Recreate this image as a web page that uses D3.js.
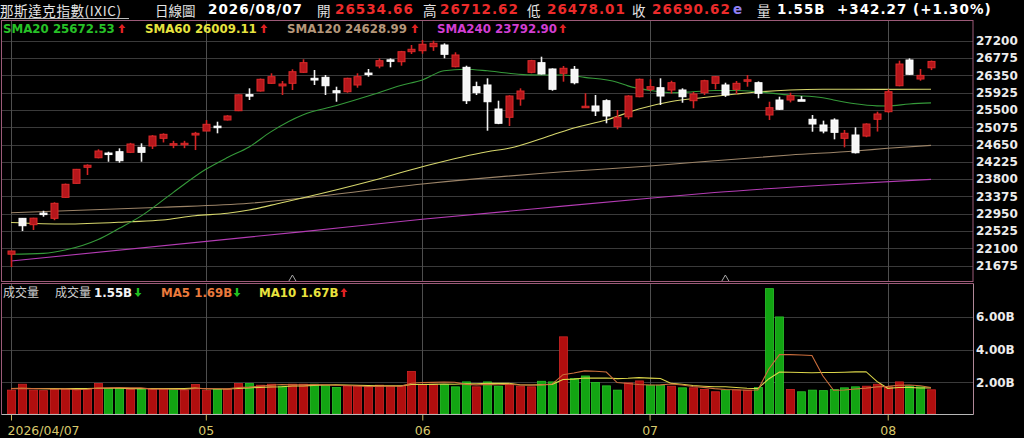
<!DOCTYPE html>
<html>
<head>
<meta charset="utf-8">
<script src="https://cdn.jsdelivr.net/npm/d3@7"></script>
<style>
html, body { margin: 0; padding: 0; background: #000; }
svg { display: block; }
</style>
</head>
<body>
<script>
// daily candles 2026/04/07 .. 2026/08/07, 86 sessions
var opens = [21955,22836,22680,22965,22836,23352,23696,24090,24325,24440,
	24473,24458,24581,24613,24802,24650,24660,24883,24981,25100,
	25252,25480,25875,25964,26153,26090,26153,26424,26276,26300,
	25971,25947,26112,26405,26578,26730,26684,26930,26954,27053,
	27094,26561,26546,26070,26112,25522,25318,25768,26424,26660,
	26505,26399,26497,25560,25596,25726,25087,25330,25824,26006,
	26045,25989,25989,25726,25922,26153,26112,26006,26220,26168,
	25375,25743,25743,25750,25269,25129,25252,24802,24883,24858,
	25269,25456,26094,26726,26259,26534.66];
var highs = [22040,22845,22850,23023,23230,23690,24050,24163,24532,24473,
	24556,24690,24679,24880,24925,24740,24740,24960,25250,25210,
	25370,25880,26030,26270,26399,26210,26497,26743,26480,26357,
	26070,26290,26399,26505,26766,26766,26950,27094,27217,27200,
	27135,26915,26586,26193,26276,25726,25860,26030,26730,26807,
	26520,26579,26579,25908,25866,25760,25497,25860,26270,26252,
	26276,26217,26030,25940,26240,26330,26168,26210,26357,26200,
	25701,25824,25922,25840,25375,25236,25293,25006,25072,25170,
	25456,26006,26709,26766,26505,26712.62];
var lows = [21640,22524,22549,22876,22790,23340,23690,23900,24310,24227,
	24203,24440,24227,24540,24700,24560,24560,24514,24981,24925,
	25240,25470,25743,25950,26140,25866,25989,26410,26112,25866,
	25701,25922,26045,26316,26522,26546,26586,26873,26880,26950,
	26768,26545,25645,25866,24989,25150,25104,25603,26400,26370,
	25971,26193,26128,25550,25350,25171,25023,25269,25810,25960,
	25620,25900,25676,25539,25866,26006,25820,25890,26070,25785,
	25252,25500,25685,25725,24964,24925,24777,24581,24430,24830,
	24968,25430,26080,26360,26217,26478.01];
var closes = [22033,22655,22840,22955,23205,23672,24040,24140,24490,24425,
	24252,24662,24458,24858,24900,24670,24680,24925,25146,25085,
	25350,25870,25860,26252,26316,26136,26438,26660,26234,26094,
	25922,26276,26316,26395,26709,26720,26930,26989,27112,27136,
	26866,26849,25726,25922,25701,25171,25841,25964,26709,26382,
	26006,26522,26168,25590,25473,25350,25318,25841,26252,26070,
	25841,26168,25824,25890,26217,26316,25866,26153,26240,25908,
	25554,25515,25849,25735,25153,24981,24949,24925,24448,25153,
	25399,25947,26627,26375,26348.35,26690.62];

// volume in billions
var volumes = [1.53,1.89,1.53,1.50,1.57,1.57,1.63,1.61,1.93,1.63,
	1.63,1.57,1.57,1.57,1.63,1.57,1.53,1.87,1.53,1.57,
	1.57,1.93,1.93,1.83,1.89,1.77,1.89,1.89,1.89,1.81,
	1.69,1.77,1.77,1.73,1.83,1.77,1.77,2.67,1.89,1.89,
	1.87,1.73,2.03,1.73,2.03,1.77,1.89,1.77,1.73,2.07,
	2.03,4.77,2.23,2.39,1.99,1.79,1.53,1.97,2.09,1.83,
	1.83,1.77,1.67,1.67,1.57,1.43,1.53,1.53,1.53,1.69,
	7.70,5.98,1.57,1.43,1.53,1.50,1.57,1.67,1.73,1.77,
	1.89,1.73,2.03,1.77,1.73,1.55];
var volMa5 = [1.62,1.63,1.62,1.61,1.60,1.61,1.56,1.58,1.66,1.67,
	1.69,1.67,1.67,1.59,1.59,1.58,1.57,1.63,1.63,1.61,
	1.61,1.69,1.71,1.77,1.83,1.87,1.86,1.85,1.87,1.85,
	1.83,1.81,1.79,1.75,1.76,1.77,1.77,1.95,1.99,2.00,
	2.02,2.01,1.88,1.85,1.88,1.86,1.89,1.84,1.84,1.85,
	1.90,2.47,2.57,2.70,2.68,2.63,1.99,1.93,1.87,1.84,
	1.85,1.90,1.84,1.75,1.70,1.62,1.57,1.55,1.52,1.54,
	2.80,3.69,3.69,3.67,3.64,2.40,1.52,1.54,1.60,1.65,
	1.73,1.76,1.83,1.84,1.80,1.69];
var volMa10 = [1.63,1.64,1.63,1.62,1.62,1.62,1.62,1.62,1.64,1.64,
	1.65,1.62,1.62,1.63,1.63,1.63,1.62,1.65,1.61,1.60,
	1.60,1.63,1.67,1.70,1.72,1.74,1.78,1.78,1.82,1.84,
	1.85,1.84,1.82,1.81,1.80,1.80,1.79,1.87,1.87,1.88,
	1.90,1.89,1.92,1.92,1.94,1.94,1.95,1.86,1.84,1.86,
	1.88,2.18,2.20,2.27,2.26,2.27,2.23,2.25,2.29,2.26,
	2.24,1.94,1.89,1.81,1.77,1.74,1.74,1.69,1.64,1.62,
	2.21,2.63,2.62,2.60,2.59,2.60,2.60,2.62,2.64,2.65,
	2.06,1.64,1.69,1.70,1.66,1.67];

// price averages, [session index, value] read at points along each line
var sma20 = [[0,21952],[3,21975],[5,22057],[8,22310],[10,22590],[12,22890],[15,23475],
	[18,24040],[20,24330],[22,24590],[24,24960],[27,25380],[30,25600],[33,25840],
	[36,26100],[38,26234],[40,26462],[42,26500],[44,26460],[46,26400],[48,26360],
	[51,26357],[53,26300],[56,26180],[57,26090],[59,25980],[61,25922],[63,25945],
	[65,25975],[67,25975],[69,25945],[72,25860],[75,25800],[76,25745],[78,25650],
	[80,25600],[81,25596],[83,25645],[85,25672.53]];
var sma60 = [[0,22733],[5,22696],[11,22753],[14,22795],[17,22900],[20,22960],[22,23040],
	[25,23220],[27,23342],[33,23736],[38,24104],[44,24473],[46,24556],[50,24883],
	[52,25055],[55,25252],[58,25522],[61,25706],[64,25804],[67,25890],[69,25940],
	[72,25989],[75,26006],[80,26005],[85,26009.11]];
var sma120 = [[0,22974],[14,23107],[22,23205],[27,23335],[38,23679],[51,23980],[59,24121],
	[65,24252],[72,24392],[78,24490],[81,24556],[85,24628.99]];
var sma240 = [[0,21787],[27,22510],[38,22812],[51,23135],[59,23328],[65,23470],[75,23650],
	[85,23792.90]];

var priceTicks = [27200,26775,26350,25925,25500,25075,24650,24225,23800,23375,22950,22525,22100,21675];
var volTicks = [2, 4, 6];
var dateTickIdx = [0, 18, 38, 59, 81];
var dateTickLabels = ["2026/04/07", "05", "06", "07", "08"];
var markIdx = [26, 66];

var W = 1024, H = 438;
var left = 2, right = 973;
var priceTop = 20.5, priceBottom = 281.5;
var volTop = 283.5, volBottom = 414.5;

var numFont = "DejaVu Sans, Verdana, sans-serif";
var cjkFont = "Noto Sans CJK TC, Noto Sans CJK SC, sans-serif";

var svg = d3.select("body").append("svg")
	.attr("width", W)
	.attr("height", H)
	.style("background", "#000");

var x = d3.scaleLinear().domain([0, 85]).range([11, 931]);
var y = d3.scaleLinear().domain([21675, 27200]).range([265.6, 40.7]);
var yv = d3.scaleLinear().domain([0, 8]).range([415.3, 283.7]);

drawHeader();
drawPrice();
drawVolume();
drawFrames();


function upArrow(g, ax, ay, up, color) {
	// small block arrow, ay = top of the arrow
	var p = up
		? [[0,0],[3.5,4],[1.2,4],[1.2,9],[-1.2,9],[-1.2,4],[-3.5,4]]
		: [[0,9],[3.5,5],[1.2,5],[1.2,0],[-1.2,0],[-1.2,5],[-3.5,5]];
	g.append("path")
		.attr("d", "M" + p.map(function(q) { return (ax + q[0]) + "," + (ay + q[1]); }).join("L") + "Z")
		.attr("fill", color);
}


function headNum(g, tx, str, color) {
	g.append("text").attr("x", tx).attr("y", 13.5).attr("font-family", numFont)
		.attr("font-size", 13.5).attr("font-weight", "bold").attr("letter-spacing", 1)
		.attr("fill", color).text(str);
}

function headCjk(g, tx, str) {
	g.append("text").attr("x", tx).attr("y", 15.8).attr("font-family", cjkFont)
		.attr("font-size", 13.5).attr("fill", "#e4e4e4").text(str);
}


function drawHeader() {
	var g = svg.append("g");
	var last = closes.length - 1;
	var chg = closes[last] - closes[last - 1];
	var pct = chg / closes[last - 1] * 100;
	var red = "#ec2b2b";

	g.append("text").attr("x", 0).attr("y", 15.8).attr("font-family", cjkFont)
		.attr("font-size", 13.5).attr("letter-spacing", 0.6).attr("fill", "#e4e4e4").text("那斯達克指數(IXIC)");
	g.append("line").attr("x1", 0).attr("x2", 129).attr("y1", 18.5).attr("y2", 18.5)
		.attr("stroke", "#bbbbbb").attr("stroke-width", 1);
	headCjk(g, 155, "日線圖");
	headNum(g, 208, "2026/08/07", "#ffffff");

	var items = [
		{ lab: "開", lx: 317, vx: 335, v: opens[last] },
		{ lab: "高", lx: 423, vx: 440, v: highs[last] },
		{ lab: "低", lx: 527, vx: 547, v: lows[last] },
		{ lab: "收", lx: 632, vx: 652, v: closes[last] }
	];
	items.forEach(function(d) {
		headCjk(g, d.lx, d.lab);
		headNum(g, d.vx, d.v.toFixed(2), red);
	});
	headNum(g, 733, "e", "#8f80f4");
	headCjk(g, 757, "量");
	headNum(g, 777, volumes[last].toFixed(2) + "B", "#ffffff");
	headNum(g, 837, "+" + chg.toFixed(2) + " (+" + pct.toFixed(2) + "%)", "#ffffff");
}


function drawPrice() {
	var grid = svg.append("g");
	grid.selectAll("line.h").data(priceTicks).enter().append("line")
		.attr("x1", left).attr("x2", right)
		.attr("y1", function(d) { return Math.round(y(d)) + 0.5; })
		.attr("y2", function(d) { return Math.round(y(d)) + 0.5; })
		.attr("stroke", "#3a3a3a");
	grid.selectAll("line.v").data(dateTickIdx).enter().append("line")
		.attr("x1", function(d) { return Math.round(x(d)) + 0.5; })
		.attr("x2", function(d) { return Math.round(x(d)) + 0.5; })
		.attr("y1", priceTop).attr("y2", priceBottom)
		.attr("stroke", "#4e4e4e");

	var ax = svg.append("g")
		.attr("transform", "translate(" + right + ",0)")
		.call(d3.axisRight(y).tickValues(priceTicks).tickSize(0).tickPadding(3).tickFormat(d3.format("d")));
	ax.select(".domain").remove();
	ax.selectAll("text").attr("font-family", numFont).attr("font-size", 12)
		.attr("font-weight", "bold").attr("fill", "#ececec");

	// moving averages
	var line = d3.line()
		.x(function(d) { return x(d[0]); })
		.y(function(d) { return y(d[1]); })
		.curve(d3.curveMonotoneX);
	var mas = [
		{ data: sma240, color: "#b43cb4" },
		{ data: sma120, color: "#9c8468" },
		{ data: sma60, color: "#d6d66c" },
		{ data: sma20, color: "#359a3a" }
	];
	mas.forEach(function(m) {
		svg.append("path").attr("d", line(m.data)).attr("fill", "none")
			.attr("stroke", m.color).attr("stroke-width", 1.1);
	});

	// candles
	var idx = d3.range(opens.length);
	var cg = svg.append("g");
	var c = cg.selectAll("g").data(idx).enter().append("g");
	c.append("line")
		.attr("x1", function(i) { return Math.round(x(i)) + 0.5; })
		.attr("x2", function(i) { return Math.round(x(i)) + 0.5; })
		.attr("y1", function(i) { return y(highs[i]); })
		.attr("y2", function(i) { return y(lows[i]); })
		.attr("stroke", function(i) { return closes[i] >= opens[i] ? "#d42424" : "#f2f2f2"; })
		.attr("stroke-width", 1.6);
	c.append("rect")
		.attr("x", function(i) { return Math.round(x(i)) - 3; })
		.attr("width", 7)
		.attr("y", function(i) { return y(Math.max(opens[i], closes[i])); })
		.attr("height", function(i) { return Math.max(1.5, Math.abs(y(opens[i]) - y(closes[i]))); })
		.attr("fill", function(i) { return closes[i] >= opens[i] ? "#b5161b" : "#f6f6f6"; })
		.attr("stroke", function(i) { return closes[i] >= opens[i] ? "#dc2a2a" : "#ffffff"; })
		.attr("stroke-width", 1);

	// small markers at the bottom of the price panel
	svg.selectAll("path.mark").data(markIdx).enter().append("path")
		.attr("d", function(i) {
			var cx = x(i);
			return "M" + (cx - 3.5) + ",281 L" + cx + ",275 L" + (cx + 3.5) + ",281";
		})
		.attr("fill", "none").attr("stroke", "#a8a8a8").attr("stroke-width", 1);

	// legend row
	var lg = svg.append("g");
	var leg = [
		{ name: "SMA20", data: sma20, color: "#27c127", tx: 3, ax: 122 },
		{ name: "SMA60", data: sma60, color: "#e6e23e", tx: 145, ax: 264 },
		{ name: "SMA120", data: sma120, color: "#b4977a", tx: 287, ax: 415 },
		{ name: "SMA240", data: sma240, color: "#d23ed2", tx: 437, ax: 563 }
	];
	leg.forEach(function(l) {
		var n = l.data.length;
		var v = l.data[n - 1][1];
		lg.append("text").attr("x", l.tx).attr("y", 33).attr("font-family", numFont)
			.attr("font-size", 11.8).attr("font-weight", "bold").attr("fill", l.color)
			.text(l.name + " " + v.toFixed(2));
		var up = v >= l.data[n - 2][1];
		upArrow(lg, l.ax, 24, up, up ? "#e02020" : "#20c020");
	});
}


function drawVolume() {
	var grid = svg.append("g");
	grid.selectAll("line.h").data(volTicks).enter().append("line")
		.attr("x1", left).attr("x2", right)
		.attr("y1", function(d) { return Math.round(yv(d)) + 0.5; })
		.attr("y2", function(d) { return Math.round(yv(d)) + 0.5; })
		.attr("stroke", "#3a3a3a");
	grid.selectAll("line.v").data(dateTickIdx).enter().append("line")
		.attr("x1", function(d) { return Math.round(x(d)) + 0.5; })
		.attr("x2", function(d) { return Math.round(x(d)) + 0.5; })
		.attr("y1", volTop).attr("y2", volBottom)
		.attr("stroke", "#4e4e4e");

	var ax = svg.append("g")
		.attr("transform", "translate(" + right + ",0)")
		.call(d3.axisRight(yv).tickValues(volTicks).tickSize(0).tickPadding(3)
			.tickFormat(function(d) { return d.toFixed(2) + "B"; }));
	ax.select(".domain").remove();
	ax.selectAll("text").attr("font-family", numFont).attr("font-size", 12)
		.attr("font-weight", "bold").attr("fill", "#ececec");

	var idx = d3.range(volumes.length);
	function isUp(i) { return i === 0 || closes[i] >= closes[i - 1]; }
	svg.append("g").selectAll("rect").data(idx).enter().append("rect")
		.attr("x", function(i) { return Math.round(x(i)) - 3.5; })
		.attr("width", 8)
		.attr("y", function(i) { return yv(volumes[i]); })
		.attr("height", function(i) { return volBottom - 0.5 - yv(volumes[i]); })
		.attr("fill", function(i) { return isUp(i) ? "#b00e0e" : "#12a412"; })
		.attr("stroke", function(i) { return isUp(i) ? "#cf2626" : "#2cc42c"; })
		.attr("stroke-width", 0.8);

	var line = d3.line()
		.x(function(d, i) { return x(i); })
		.y(function(d) { return yv(d); });
	svg.append("path").attr("d", line(volMa10)).attr("fill", "none")
		.attr("stroke", "#dcd64a").attr("stroke-width", 1.1);
	svg.append("path").attr("d", line(volMa5)).attr("fill", "none")
		.attr("stroke", "#cc6e3c").attr("stroke-width", 1.1);

	// date axis
	var xa = svg.append("g")
		.attr("transform", "translate(0," + volBottom + ")")
		.call(d3.axisBottom(x).tickValues(dateTickIdx).tickSize(6).tickPadding(6)
			.tickFormat(function(d, i) { return dateTickLabels[i]; }));
	xa.select(".domain").remove();
	xa.selectAll("line").attr("stroke", "#c8b862");
	xa.selectAll("text").attr("font-family", numFont).attr("font-size", 12.5)
		.attr("fill", "#d8c86c");
	xa.select(".tick text").attr("text-anchor", "start").attr("x", -4);

	// legend
	var lg = svg.append("g");
	var last = volumes.length - 1;
	lg.append("text").attr("x", 3).attr("y", 297).attr("font-family", cjkFont)
		.attr("font-size", 12).attr("fill", "#cfcfcf").text("成交量");
	lg.append("text").attr("x", 55).attr("y", 297).attr("font-family", cjkFont)
		.attr("font-size", 12).attr("fill", "#cfcfcf").text("成交量");
	var leg = [
		{ label: "", data: volumes, color: "#f4f4f4", tx: 94, ax: 138 },
		{ label: "MA5 ", data: volMa5, color: "#ea7a3c", tx: 161, ax: 237 },
		{ label: "MA10 ", data: volMa10, color: "#e8e23e", tx: 259, ax: 344 }
	];
	leg.forEach(function(l) {
		lg.append("text").attr("x", l.tx).attr("y", 297).attr("font-family", numFont)
			.attr("font-size", 11.8).attr("font-weight", "bold").attr("fill", l.color)
			.text(l.label + l.data[last].toFixed(2) + "B");
		var up = l.data[last] >= l.data[last - 1];
		upArrow(lg, l.ax, 288, up, up ? "#e02020" : "#20c020");
	});
}


function drawFrames() {
	var pink = "#9c5a78";
	svg.append("rect").attr("x", 1.5).attr("y", priceTop)
		.attr("width", right - 1.5).attr("height", priceBottom - priceTop)
		.attr("fill", "none").attr("stroke", pink);
	svg.append("line").attr("x1", 1.5).attr("x2", 1.5).attr("y1", volTop).attr("y2", volBottom)
		.attr("stroke", pink);
	svg.append("line").attr("x1", right + 0.5).attr("x2", right + 0.5).attr("y1", volTop).attr("y2", volBottom)
		.attr("stroke", "#b08898");
	svg.append("line").attr("x1", 1.5).attr("x2", right + 0.5).attr("y1", volTop).attr("y2", volTop)
		.attr("stroke", pink);
	svg.append("line").attr("x1", 1.5).attr("x2", right + 0.5).attr("y1", volBottom).attr("y2", volBottom)
		.attr("stroke", "#b8b8b8");
}
</script>
</body>
</html>
